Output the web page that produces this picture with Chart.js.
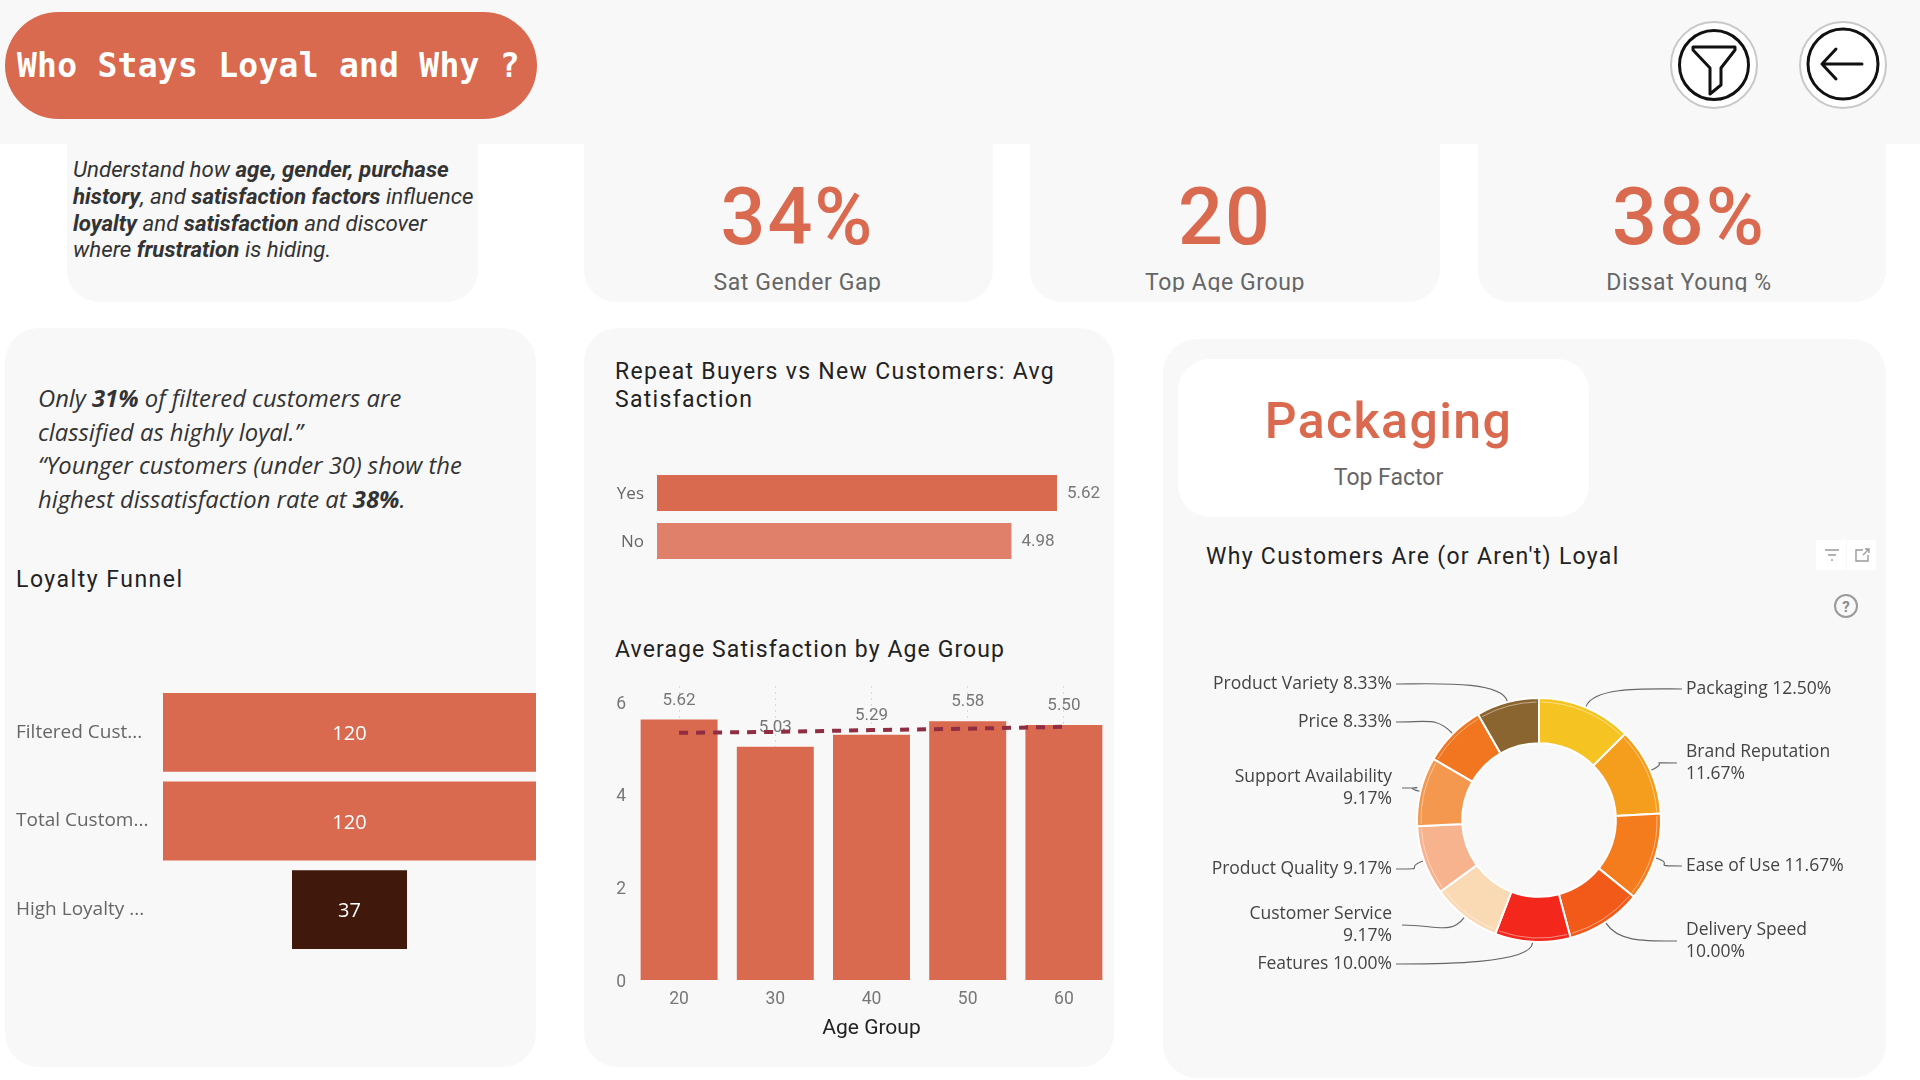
<!DOCTYPE html>
<html>
<head>
<meta charset="utf-8">
<title>Who Stays Loyal and Why ?</title>
<script src="https://cdn.jsdelivr.net/npm/chart.js@4/dist/chart.umd.min.js"></script>
<style>
    html, body { margin: 0; padding: 0; background: #fff; }
    body { position: relative; width: 1920px; height: 1080px; overflow: hidden; font-family: Roboto, sans-serif; }
    .abs { position: absolute; }
    .card { position: absolute; background: #f8f8f8; }
    .band { left: 0; top: 0; width: 1920px; height: 144px; }
    .pill { left: 5px; top: 12px; width: 532px; height: 107px; border-radius: 54px; background: #d9694f; color: #fff;
            font: bold 33px "DejaVu Sans Mono", monospace; letter-spacing: .25px; line-height: 107px; text-indent: 12px; white-space: nowrap; }
    .kpi { top: 144px; height: 158px; border-radius: 0 0 32px 32px; text-align: center; overflow: hidden; }
    .kpi b { display: block; margin-top: 27px; font: 500 79px/92px Roboto, sans-serif; letter-spacing: 2px; color: #d9694f; }
    .kpi span { display: block; margin-top: 6px; font: 400 23px/28px Roboto, sans-serif; letter-spacing: .6px; color: #666; height: 23px; overflow: hidden; }
    .panel { top: 328px; height: 739px; border-radius: 34px; }
    .title { position: absolute; font: 400 23px/28px Roboto, sans-serif; letter-spacing: 1.3px; color: #222; white-space: nowrap; }
    .intro { left: 73px; top: 156px; font: italic 400 22.3px/26.8px Roboto, sans-serif; color: #333; white-space: nowrap; }
    .intro b { font-weight: 700; }
    .note { left: 38px; top: 382px; font: italic 400 23.8px/33.6px "Open Sans", sans-serif; color: #333; white-space: nowrap; }
    .note b { font-weight: 700; }
    .factor { left: 1178px; top: 359px; width: 411px; height: 158px; border-radius: 32px; background: #fff; text-align: center; }
    .factor b { display: block; margin-top: 30px; padding-left: 10px; font: 500 50px/64px Roboto, sans-serif; letter-spacing: 1.4px; color: #d9694f; }
    .factor span { display: block; margin-top: 11px; padding-left: 10px; font: 400 23px/28px Roboto, sans-serif; color: #666; }
    canvas { position: absolute; display: block; }
</style>
</head>
<body>
<div class="card band"></div>
<div class="abs pill">Who Stays Loyal and Why ?</div>

<!-- round buttons -->
<svg class="abs" style="left:1664px;top:14px" width="230" height="102" viewBox="0 0 230 102" fill="none">
    <circle cx="50" cy="51" r="43" fill="#fff" stroke="#c8c8c8" stroke-width="2"/>
    <circle cx="50" cy="51" r="34.5" stroke="#111" stroke-width="3"/>
    <path d="M29 33 H71 L71 36 L57 54 V71 L46 80 V54 L29 36 Z" stroke="#111" stroke-width="3" stroke-linejoin="round"/>
    <circle cx="179" cy="51" r="43" fill="#fff" stroke="#c8c8c8" stroke-width="2"/>
    <circle cx="179" cy="50" r="35" stroke="#111" stroke-width="3"/>
    <path d="M198 50 H158 M172 35 L158 50 L172 65" stroke="#111" stroke-width="3" stroke-linecap="round" stroke-linejoin="round"/>
</svg>

<!-- top row -->
<div class="card" style="left:67px;top:144px;width:411px;height:158px;border-radius:0 0 32px 32px"></div>
<div class="abs intro">Understand how <b>age, gender, purchase</b><br><b>history</b>, and <b>satisfaction factors</b> influence<br><b>loyalty</b> and <b>satisfaction</b> and discover<br>where <b>frustration</b> is hiding.</div>
<div class="card kpi" style="left:584px;width:409px"><div style="transform:translateX(9px)"><b>34%</b><span>Sat Gender Gap</span></div></div>
<div class="card kpi" style="left:1030px;width:410px"><div style="transform:translateX(-10px)"><b>20</b><span>Top Age Group</span></div></div>
<div class="card kpi" style="left:1478px;width:408px"><div style="transform:translateX(7px)"><b>38%</b><span>Dissat Young %</span></div></div>

<!-- panels -->
<div class="card panel" style="left:5px;width:531px"></div>
<div class="card panel" style="left:584px;width:530px"></div>
<div class="card panel" style="left:1163px;top:339px;width:723px"></div>

<div class="abs note">Only <b>31%</b> of filtered customers are<br>classified as highly loyal.”<br>“Younger customers (under 30) show the<br>highest dissatisfaction rate at <b>38%</b>.</div>
<div class="title" style="left:16px;top:566px;letter-spacing:1.5px">Loyalty Funnel</div>
<div class="title" style="left:615px;top:358px">Repeat Buyers vs New Customers: Avg<br>Satisfaction</div>
<div class="title" style="left:615px;top:636px;letter-spacing:1.1px">Average Satisfaction by Age Group</div>
<div class="abs factor"><b>Packaging</b><span>Top Factor</span></div>
<div class="title" style="left:1206px;top:543px">Why Customers Are (or Aren't) Loyal</div>

<!-- visual header icons -->
<svg class="abs" style="left:1816px;top:540px" width="60" height="85" viewBox="0 0 60 85" fill="none" stroke="#9a9a9a" stroke-width="1.4">
    <rect x="0" y="0" width="30" height="30" fill="#fff" stroke="none"/>
    <rect x="31" y="0" width="29" height="30" fill="#fff" stroke="none"/>
    <path d="M9 10 H23 M12 15 H20 M15 20 H17"/>
    <path d="M47 10 H40 V21 H52 V15 M47 15 L53 9 M49 9 H53 V13"/>
    <circle cx="30" cy="66" r="11" stroke-width="2"/>
    <text x="30" y="71.5" text-anchor="middle" font-family="Roboto" font-size="15" font-weight="700" fill="#8a8a8a" stroke="none">?</text>
</svg>

<canvas id="funnelChart" style="left:16px;top:688px" width="520" height="266"></canvas>
<canvas id="repeatChart" style="left:584px;top:469px" width="530" height="96"></canvas>
<canvas id="ageChart" style="left:585px;top:680px" width="527" height="370"></canvas>
<canvas id="factorChart" style="left:1192px;top:650px" width="694" height="340"></canvas>

<script>
// ─── Data ───────────────────────────────────────────────────────────────────
const funnelLabels = ["Filtered Cust...", "Total Custom...", "High Loyalty ..."];
const funnelValues = [120, 120, 37];

const repeatLabels = ["Yes", "No"];
const repeatValues = [5.62, 4.98];

const ageGroups = ["20", "30", "40", "50", "60"];
const ageSatisfaction = [5.62, 5.03, 5.29, 5.58, 5.50];
const ageTrend = [5.33, 5.35, 5.39, 5.42, 5.46];
const ageTicks = [0, 2, 4, 6];

const factorNames = ["Packaging", "Brand Reputation", "Ease of Use", "Delivery Speed", "Features",
    "Customer Service", "Product Quality", "Support Availability", "Price", "Product Variety"];
const factorShares = [12.50, 11.67, 11.67, 10.00, 10.00, 9.17, 9.17, 9.17, 8.33, 8.33];

// ─── Styles ─────────────────────────────────────────────────────────────────
const ORANGE = "#d9694f";
const ORANGE_LIGHT = "#e1806a";
const DARK_BROWN = "#41180c";
const TREND = "#8f2d43";
const FONT_DIN = "Roboto";
const FONT_UI = "'Open Sans'";

const FACTOR_COLORS = ["#f5c422", "#f59e1e", "#f57c1c", "#f25a1a", "#f3271c",
    "#fad9b5", "#f7b28e", "#f5984f", "#f27520", "#8b6530"];

// Where each donut callout ends, as offsets from the donut centre, and how its text wraps
const CALLOUT_TEXT_X = 147;
const CALLOUTS = [
    { dx: 143, dy: -131, side: 1, lines: 1 },
    { dx: 138, dy: -57, side: 1, lines: 2 },
    { dx: 143, dy: 46, side: 1, lines: 1 },
    { dx: 138, dy: 121, side: 1, lines: 2 },
    { dx: -143, dy: 144, side: -1, lines: 1 },
    { dx: -137, dy: 105, side: -1, lines: 2 },
    { dx: -143, dy: 49, side: -1, lines: 1 },
    { dx: -137, dy: -32, side: -1, lines: 2 },
    { dx: -143, dy: -98, side: -1, lines: 1 },
    { dx: -143, dy: -136, side: -1, lines: 1 },
];

Chart.defaults.animation = false;
Chart.defaults.responsive = false;
Chart.defaults.devicePixelRatio = 1;
Chart.defaults.plugins.legend.display = false;
Chart.defaults.plugins.tooltip.enabled = false;

// Tick labels should not push the plot area away from the canvas edges
function noLabelPadding(scale) {
    scale.paddingTop = 0;
    scale.paddingBottom = 0;
    scale.paddingLeft = 0;
    scale.paddingRight = 0;
}

// ─── Plugins ────────────────────────────────────────────────────────────────
const funnelLabelPlugin = {
    id: "funnelLabels",
    afterDatasetsDraw(chart) {
        const { ctx } = chart;
        const yScale = chart.scales.y;
        const xScale = chart.scales.x;
        ctx.save();
        ctx.fillStyle = "#fff";
        ctx.font = `20px ${FONT_UI}`;
        ctx.textAlign = "center";
        ctx.textBaseline = "middle";
        funnelValues.forEach((v, i) => {
            ctx.fillText(String(v), xScale.getPixelForValue(0), yScale.getPixelForValue(i) + 2);
        });
        ctx.restore();
    },
};

const repeatLabelPlugin = {
    id: "repeatLabels",
    afterDatasetsDraw(chart) {
        const { ctx } = chart;
        ctx.save();
        ctx.fillStyle = "#777";
        ctx.font = `17px ${FONT_DIN}`;
        ctx.textBaseline = "middle";
        repeatValues.forEach((v, i) => {
            const x = chart.scales.x.getPixelForValue(v) + 10;
            ctx.fillText(v.toFixed(2), x, chart.scales.y.getPixelForValue(i) + 1);
        });
        ctx.restore();
    },
};

// drawn straight after the bars so the trend line passes over the labels
const ageLabelPlugin = {
    id: "ageLabels",
    afterDatasetDraw(chart, args) {
        if (args.index !== 0) return;
        const { ctx } = chart;
        ctx.save();
        ctx.fillStyle = "#777";
        ctx.font = `17px ${FONT_DIN}`;
        ctx.textAlign = "center";
        ctx.textBaseline = "middle";
        ageSatisfaction.forEach((v, i) => {
            const x = chart.scales.x.getPixelForValue(i);
            const y = chart.scales.y.getPixelForValue(v) - 19;
            ctx.fillText(v.toFixed(2), x, y);
        });
        ctx.restore();
    },
};

const calloutPlugin = {
    id: "callouts",
    afterDatasetsDraw(chart) {
        const { ctx } = chart;
        const arcs = chart.getDatasetMeta(0).data;
        ctx.save();
        arcs.forEach((arc, i) => {
            const mid = (arc.startAngle + arc.endAngle) / 2;
            const layout = CALLOUTS[i];
            const sx = arc.x + Math.cos(mid) * (arc.outerRadius + 1);
            const sy = arc.y + Math.sin(mid) * (arc.outerRadius + 1);
            const ex = arc.x + layout.dx;
            const ey = arc.y + layout.dy;

            // faint inner rim near the outer edge of each slice
            ctx.beginPath();
            ctx.arc(arc.x, arc.y, arc.outerRadius - 4, arc.startAngle + 0.02, arc.endAngle - 0.02);
            ctx.strokeStyle = "rgba(255,255,255,0.45)";
            ctx.lineWidth = 1;
            ctx.stroke();

            // leader line
            ctx.beginPath();
            ctx.moveTo(sx, sy);
            ctx.bezierCurveTo(sx + Math.cos(mid) * 22, sy + Math.sin(mid) * 22,
                ex - layout.side * 34, ey, ex, ey);
            ctx.strokeStyle = "#666";
            ctx.lineWidth = 1.2;
            ctx.stroke();

            // text
            const pct = factorShares[i].toFixed(2) + "%";
            const tx = arc.x + layout.side * CALLOUT_TEXT_X;
            ctx.fillStyle = "#444";
            ctx.font = `17.5px ${FONT_UI}`;
            ctx.textAlign = layout.side > 0 ? "left" : "right";
            ctx.textBaseline = "middle";
            if (layout.lines === 2) {
                ctx.fillText(factorNames[i], tx, ey - 11);
                ctx.fillText(pct, tx, ey + 11);
            } else {
                ctx.fillText(factorNames[i] + " " + pct, tx, ey);
            }
        });
        ctx.restore();
    },
};

// ─── Charts ─────────────────────────────────────────────────────────────────
new Chart(document.getElementById("funnelChart"), {
    type: "bar",
    data: {
        labels: funnelLabels,
        datasets: [{
            data: funnelValues.map(v => [-v / 2, v / 2]),
            backgroundColor: [ORANGE, ORANGE, DARK_BROWN],
            barPercentage: 0.89,
            categoryPercentage: 1,
        }],
    },
    options: {
        indexAxis: "y",
        layout: { padding: 0 },
        scales: {
            x: { display: false, min: -60, max: 60 },
            y: {
                afterFit(scale) { scale.width = 147; noLabelPadding(scale); },
                grid: { display: false, drawTicks: false },
                border: { display: false },
                ticks: { crossAlign: "far", padding: 0, color: "#666", font: { size: 19, family: FONT_UI } },
            },
        },
    },
    plugins: [funnelLabelPlugin],
});

new Chart(document.getElementById("repeatChart"), {
    type: "bar",
    data: {
        labels: repeatLabels,
        datasets: [{
            data: repeatValues,
            backgroundColor: [ORANGE, ORANGE_LIGHT],
            barPercentage: 0.75,
            categoryPercentage: 1,
        }],
    },
    options: {
        indexAxis: "y",
        layout: { padding: { right: 57 } },
        scales: {
            x: { display: false, min: 0, max: 5.62 },
            y: {
                afterFit(scale) { scale.width = 73; noLabelPadding(scale); },
                grid: { display: false, drawTicks: false },
                border: { display: false },
                ticks: { padding: 13, labelOffset: 1, color: "#666", font: { size: 17, family: FONT_UI } },
            },
        },
    },
    plugins: [repeatLabelPlugin],
});

new Chart(document.getElementById("ageChart"), {
    type: "bar",
    data: {
        labels: ageGroups,
        datasets: [
            {
                data: ageSatisfaction,
                backgroundColor: ORANGE,
                barPercentage: 0.8,
                categoryPercentage: 1,
                order: 2,
            },
            {
                type: "line",
                data: ageTrend,
                borderColor: TREND,
                borderWidth: 4,
                borderDash: [9, 8],
                pointRadius: 0,
                tension: 0,
                order: 1,
            },
        ],
    },
    options: {
        layout: { padding: { top: 6 } },
        scales: {
            x: {
                afterFit(scale) { scale.height = 70; noLabelPadding(scale); },
                grid: { offset: false, drawTicks: false, color: "#d8d8d8", lineWidth: 1 },
                border: { display: false, dash: [2, 4] },
                ticks: { padding: 9, color: "#777", font: { size: 17.5, family: FONT_DIN } },
                title: {
                    display: true,
                    text: "Age Group",
                    color: "#222",
                    font: { size: 21, family: FONT_DIN, weight: "400" },
                    padding: { top: 0, bottom: 9 },
                },
            },
            y: {
                min: 0,
                max: 6.34,
                afterBuildTicks(scale) { scale.ticks = ageTicks.map(v => ({ value: v })); },
                afterFit(scale) { scale.width = 46; noLabelPadding(scale); },
                grid: { display: false, drawTicks: false },
                border: { display: false },
                ticks: { padding: 5, labelOffset: 2.5, color: "#777", font: { size: 17.5, family: FONT_DIN } },
            },
        },
    },
    plugins: [ageLabelPlugin],
});

new Chart(document.getElementById("factorChart"), {
    type: "doughnut",
    data: {
        labels: factorNames,
        datasets: [{
            data: factorShares,
            backgroundColor: FACTOR_COLORS,
            borderColor: "#fff",
            borderWidth: 2,
        }],
    },
    options: {
        radius: 122,
        cutout: "63%",
        layout: { padding: 0 },
    },
    plugins: [calloutPlugin],
});
</script>
</body>
</html>
